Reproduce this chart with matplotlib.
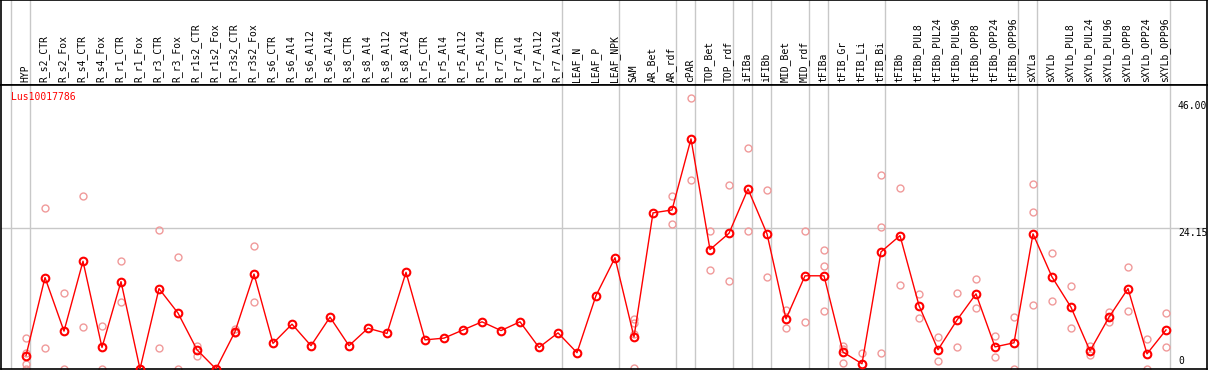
import numpy as np
import matplotlib
matplotlib.use('Agg')
import matplotlib.pyplot as plt

plt.rcParams['font.family'] = 'DejaVu Sans Mono'

# Sample names (header labels)
samples = ['HYP',
           'R_s2_CTR', 'R_s2_Fox', 'R_s4_CTR', 'R_s4_Fox', 'R_r1_CTR', 'R_r1_Fox',
           'R_r3_CTR', 'R_r3_Fox', 'R_r1s2_CTR', 'R_r1s2_Fox', 'R_r3s2_CTR', 'R_r3s2_Fox',
           'R_s6_CTR', 'R_s6_Al4', 'R_s6_Al12', 'R_s6_Al24',
           'R_s8_CTR', 'R_s8_Al4', 'R_s8_Al12', 'R_s8_Al24',
           'R_r5_CTR', 'R_r5_Al4', 'R_r5_Al12', 'R_r5_Al24',
           'R_r7_CTR', 'R_r7_Al4', 'R_r7_Al12', 'R_r7_Al24',
           'LEAF_N', 'LEAF_P', 'LEAF_NPK',
           'SAM', 'AR_Bet', 'AR_rdf',
           'cPAR',
           'TOP_Bet', 'TOP_rdf',
           'iFIBa', 'iFIBb',
           'MID_Bet', 'MID_rdf',
           'tFIBa',
           'tFIB_Gr', 'tFIB_Li', 'tFIB_Bi',
           'tFIBb', 'tFIBb_PUL8', 'tFIBb_PUL24', 'tFIBb_PUL96',
           'tFIBb_OPP8', 'tFIBb_OPP24', 'tFIBb_OPP96',
           'sXYLa',
           'sXYLb', 'sXYLb_PUL8', 'sXYLb_PUL24', 'sXYLb_PUL96',
           'sXYLb_OPP8', 'sXYLb_OPP24', 'sXYLb_OPP96']

# number of samples in each group (separated by grey lines)
group_sizes = [1, 28, 3, 3, 1, 2, 1, 1, 2, 1, 3, 7, 1, 7]

# mean expression
means = [2.3, 15.7, 6.5, 18.5, 3.7, 15.0, 0.0, 13.8, 9.6, 3.3, 0.0, 6.4, 16.3,
         4.4, 7.7, 4.0, 8.9, 4.0, 7.0, 6.1, 16.6,
         5.0, 5.3, 6.7, 8.1, 6.6, 8.1, 3.7, 6.2,
         2.8, 12.6, 19.1, 5.5, 26.8, 27.3, 39.5, 20.5, 23.3, 30.9, 23.2,
         8.6, 16.0, 16.0, 2.9, 0.9, 20.1,
         22.9, 10.9, 3.3, 8.4, 12.9, 3.8, 4.5,
         23.2, 15.8, 10.6, 3.1, 8.9, 13.8, 2.6, 6.7]

# individual replicates (sample index, value)
rep_idx = [0, 0, 0, 0, 1, 1, 2, 2, 3, 3, 4, 4, 5, 5, 6, 6, 7, 7, 8, 8, 9, 9,
           10, 10, 11, 11, 12, 12,
           32, 32, 32, 32, 34, 34, 35, 35, 36, 36, 37, 37, 38, 38, 39, 39, 40, 40,
           41, 41, 42, 42, 42, 43, 43, 43, 44, 45, 45, 45, 46, 46, 47, 47,
           48, 48, 49, 49, 50, 50, 51, 51, 52, 52, 53, 53, 53, 54, 54,
           55, 55, 56, 56, 57, 57, 58, 58, 59, 59, 60, 60]
rep_val = [5.3, 2.7, 0.9, 0.0, 27.6, 3.6, 13.0, 0.0, 29.7, 7.2, 7.4, 0.0,
           18.6, 11.5, 0.0, 0.0, 23.9, 3.6, 19.2, 0.0, 4.0, 2.3,
           0.0, 0.0, 6.9, 6.2, 21.1, 11.5,
           8.5, 7.9, 6.0, 0.2, 29.7, 24.9, 46.5, 32.4, 23.7, 17.0, 31.6, 15.1,
           37.9, 23.7, 30.7, 15.8, 10.2, 7.0,
           23.7, 8.1, 20.4, 17.7, 10.0, 4.0, 3.4, 1.0, 2.7, 33.3, 24.4, 2.8,
           31.1, 14.4, 12.9, 8.8,
           5.5, 1.3, 13.0, 3.8, 15.5, 10.5, 5.7, 2.1, 8.9, 0.0,
           31.8, 26.9, 11.0, 19.9, 11.7,
           14.2, 7.0, 3.9, 2.4, 9.7, 8.0, 17.5, 10.0, 5.1, 0.0, 9.6, 3.8]

gene = 'Lus10017786'
y_max = 46.00
y_mid = 24.15

W, H = 1209, 370
fig = plt.figure(figsize=(W / 100, H / 100), dpi=100)

x = np.arange(len(samples))
xlim = ((1 - 26) / 19, (1207 - 26) / 19)
bounds = np.concatenate([[-1], np.cumsum(group_sizes) - 1]) + 0.21

# header with sample names
axh = fig.add_axes([1 / W, (H - 85) / H, 1206 / W, 85 / H])
axh.set_xlim(xlim)
axh.set_ylim(0, 1)
axh.set_xticks([])
axh.set_yticks([])
for s in axh.spines.values():
    s.set_color('black')
    s.set_linewidth(1.2)
for b in bounds:
    axh.axvline(b, color='#c8c8c8', lw=1)
for i, name in enumerate(samples):
    axh.text(i - 0.05, 3 / 85, name, rotation=90, ha='center', va='bottom',
             fontsize=7, color='black')

# main plot
ax = fig.add_axes([1 / W, 1 / H, 1206 / W, 284 / H])
ax.set_xlim(xlim)
ax.set_ylim(0, 48.75)
ax.set_xticks([])
ax.set_yticks([])
for s in ax.spines.values():
    s.set_color('black')
    s.set_linewidth(1.2)
for b in bounds:
    ax.axvline(b, color='#c8c8c8', lw=1, zorder=1)
ax.axhline(y_mid, color='#c8c8c8', lw=1, zorder=1)

ax.plot(rep_idx, rep_val, 'o', ls='none', ms=5, mfc='none', mec='#f09a9a', mew=1,
        zorder=2)
ax.plot(x, means, '-', color='red', lw=1, marker='o', ms=5.5, mfc='none',
        mec='red', mew=1.5, zorder=3)

ax.text(0.008, 0.957, gene, transform=ax.transAxes, color='red', fontsize=7,
        ha='left', va='center')

tx = (1178 - 26) / 19
ax.text(tx, y_max, '%.2f' % y_max, fontsize=7, ha='left', va='top', clip_on=False)
ax.text(tx, y_mid, '%.2f' % y_mid, fontsize=7, ha='left', va='top', clip_on=False)
ax.text(tx, 0.6, '0', fontsize=7, ha='left', va='bottom', clip_on=False)

fig.savefig('out.png', dpi=100)
